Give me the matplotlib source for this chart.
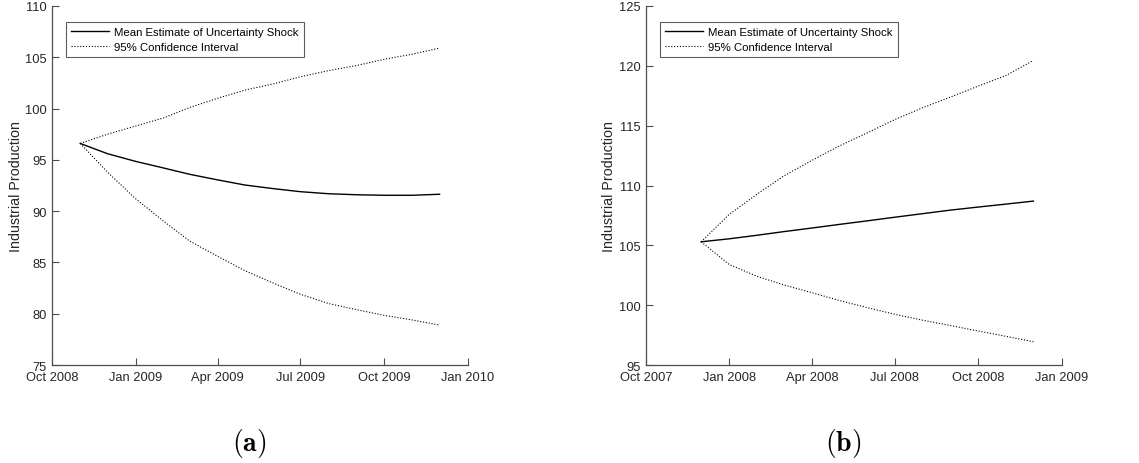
import numpy as np
import pandas as pd
import matplotlib
matplotlib.use("Agg")
import matplotlib.pyplot as plt
import matplotlib.dates as mdates

# Panel (a): forecast Nov 2008 - Dec 2009
dates_a = pd.date_range("2008-11-01", "2009-12-01", freq="MS")
mean_a = [96.6, 95.6, 94.85, 94.2, 93.6, 93.05, 92.55, 92.2, 91.9, 91.7, 91.6, 91.55, 91.55, 91.65]
upper_a = [96.6, 97.5, 98.3, 99.1, 100.1, 101.0, 101.8, 102.4, 103.1, 103.7, 104.2, 104.8, 105.3, 105.9]
lower_a = [96.6, 93.8, 91.2, 89.0, 87.1, 85.6, 84.2, 83.0, 81.9, 81.0, 80.4, 79.85, 79.4, 78.9]

# Panel (b): forecast Dec 2007 - Dec 2008
dates_b = pd.date_range("2007-12-01", "2008-12-01", freq="MS")
mean_b = [105.3, 105.55, 105.85, 106.15, 106.45, 106.75, 107.05, 107.35, 107.65, 107.95, 108.2, 108.45, 108.7]
upper_b = [105.3, 107.6, 109.3, 110.8, 112.1, 113.3, 114.4, 115.5, 116.5, 117.4, 118.3, 119.2, 120.45]
lower_b = [105.3, 103.4, 102.4, 101.7, 101.05, 100.4, 99.8, 99.25, 98.75, 98.3, 97.85, 97.4, 96.95]

plt.rcParams["font.family"] = ["Liberation Sans", "DejaVu Sans"]
plt.rcParams["mathtext.fontset"] = "cm"

AX_COL = "#4d4d4d"
TXT_COL = "#262626"
DOT = (0, (1, 1.6))

fig = plt.figure(figsize=(11.39, 4.64), dpi=100)


def draw_panel(rect, dates, mean, upper, lower, xlim, ylim, caption):
    ax = fig.add_axes(rect)
    ax.plot(dates, mean, color="black", lw=1.0, label="Mean Estimate of Uncertainty Shock")
    ax.plot(dates, upper, color="black", lw=0.8, ls=DOT, label="95% Confidence Interval")
    ax.plot(dates, lower, color="black", lw=0.8, ls=DOT)

    ax.set_xlim(pd.Timestamp(xlim[0]), pd.Timestamp(xlim[1]))
    ax.set_ylim(*ylim)
    ax.set_yticks(np.arange(ylim[0], ylim[1] + 1, 5))
    ax.xaxis.set_major_locator(mdates.MonthLocator(bymonth=[1, 4, 7, 10]))
    ax.xaxis.set_major_formatter(mdates.DateFormatter("%b %Y"))

    for s in ["top", "right"]:
        ax.spines[s].set_visible(False)
    for s in ["left", "bottom"]:
        ax.spines[s].set_color(AX_COL)
        ax.spines[s].set_linewidth(0.9)
    ax.tick_params(direction="in", length=5, width=0.8, color=AX_COL,
                   labelcolor=TXT_COL, labelsize=9.3, pad=4)
    ax.set_ylabel("Industrial Production", fontsize=10.3, color=TXT_COL, labelpad=1.5)

    leg = ax.legend(loc="upper left", fontsize=8.2, frameon=True, fancybox=False,
                    handlelength=3.3, handletextpad=0.5, borderpad=0.45,
                    labelspacing=0.45, bbox_to_anchor=(0.02, 0.972))
    leg.get_frame().set_edgecolor("#333333")
    leg.get_frame().set_linewidth(0.8)

    cx = rect[0] + rect[2] * 0.475
    fig.text(cx, 0.045, caption, ha="center", va="center", fontsize=20)
    return ax


draw_panel([0.0457, 0.211, 0.365, 0.774], dates_a, mean_a, upper_a, lower_a,
           ("2008-10-01", "2010-01-01"), (75, 110), r"$\mathbf{(a)}$")
draw_panel([0.567, 0.211, 0.365, 0.774], dates_b, mean_b, upper_b, lower_b,
           ("2007-10-01", "2009-01-01"), (95, 125), r"$\mathbf{(b)}$")

fig.savefig("out.png", dpi=100)
